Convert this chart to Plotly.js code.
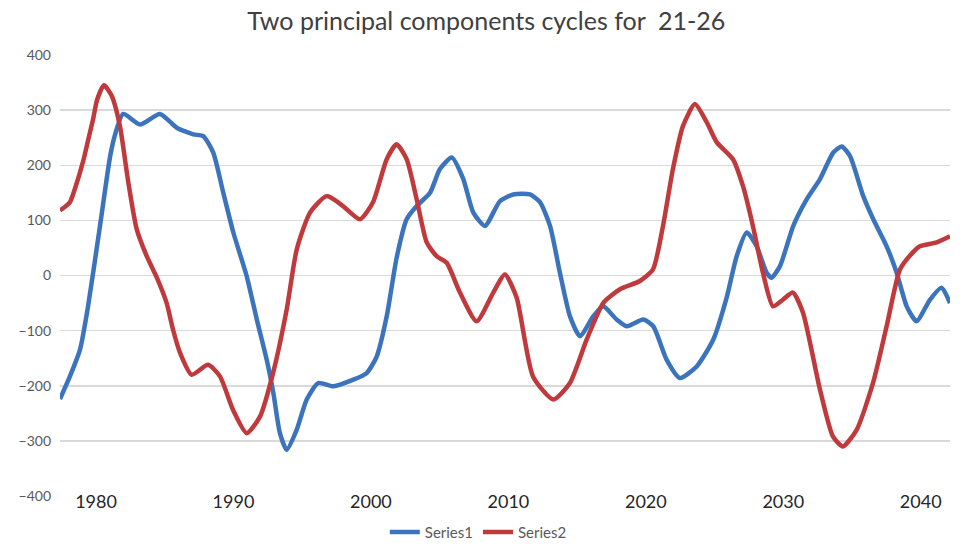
<!DOCTYPE html>
<html>
<head>
<meta charset="utf-8">
<script src="https://cdn.plot.ly/plotly-3.0.1.min.js"></script>
<style>html,body{margin:0;padding:0;background:#fff;}#chart{width:963px;height:551px;}</style>
</head>
<body>
<div id="chart"></div>
<script>
const chartTitle = "Two principal components cycles for  21-26";
const seriesNames = ["Series1", "Series2"];
const tickYears = [1980, 1990, 2000, 2010, 2020, 2030, 2040];

const years1 = [1977.38, 1978.1, 1978.83, 1979.42, 1980.29, 1981.02, 1981.38, 1981.98, 1983.2, 1984.65, 1985.87, 1987.08, 1987.8, 1988.53, 1989.26, 1989.99, 1990.96, 1991.7, 1992.42, 1992.9, 1993.38, 1993.87, 1994.6, 1995.33, 1996.17, 1997.26, 1998.72, 1999.69, 2000.42, 2001.15, 2001.87, 2002.6, 2003.33, 2004.3, 2005.02, 2005.88, 2006.72, 2007.45, 2008.3, 2009.39, 2010.36, 2011.57, 2012.3, 2013.03, 2013.75, 2014.48, 2015.21, 2016.18, 2016.9, 2017.88, 2018.61, 2019.81, 2020.54, 2021.52, 2022.48, 2023.7, 2024.91, 2025.88, 2026.61, 2027.34, 2028.06, 2028.79, 2029.15, 2029.76, 2030.73, 2031.7, 2032.67, 2033.64, 2034.25, 2034.85, 2035.82, 2036.55, 2037.52, 2038.25, 2038.98, 2039.7, 2040.67, 2041.52, 2042.13];
const values1 = [-224, -183, -135, -56, 90, 215, 255, 293, 274, 293, 268, 256, 253, 223, 150, 78, -1, -80, -153, -213, -286, -316, -280, -225, -195, -201, -189, -177, -147, -74, 32, 102, 126, 150, 193, 214, 175, 114, 90, 135, 147, 147, 133, 90, 5, -74, -110, -74, -56, -80, -92, -80, -92, -153, -186, -165, -116, -40, 35, 78, 53, 5, -4, 17, 90, 138, 175, 223, 234, 217, 144, 102, 53, 5, -56, -83, -44, -22, -50];

const years2 = [1977.38, 1978.1, 1978.5, 1979.07, 1979.42, 1979.8, 1980.07, 1980.58, 1981.14, 1981.74, 1982.35, 1982.96, 1983.69, 1984.41, 1985.14, 1985.6, 1986.11, 1986.96, 1988.15, 1989.02, 1989.97, 1990.96, 1991.93, 1992.88, 1993.87, 1994.6, 1995.57, 1996.78, 1997.97, 1999.2, 2000.15, 2001.15, 2001.87, 2002.6, 2003.33, 2004.06, 2004.78, 2005.51, 2006.48, 2007.69, 2008.9, 2009.75, 2010.6, 2011.79, 2013.27, 2014.48, 2015.7, 2016.9, 2018.12, 2019.57, 2020.52, 2021.25, 2021.97, 2022.7, 2023.57, 2024.43, 2025.15, 2026.34, 2027.07, 2027.79, 2028.52, 2029.25, 2029.97, 2030.7, 2031.43, 2032.67, 2033.61, 2034.34, 2035.34, 2036.53, 2037.52, 2038.49, 2039.43, 2039.94, 2041.16, 2042.13];
const values2 = [118, 133, 160, 208, 245, 285, 318, 345, 326, 271, 169, 84, 35, -3, -50, -98, -140, -180, -162, -183, -244, -286, -256, -177, -62, 47, 114, 144, 126, 102, 133, 211, 238, 211, 138, 60, 35, 23, -31, -83, -31, 2, -40, -183, -225, -195, -116, -50, -25, -10, 11, 90, 193, 271, 311, 278, 242, 211, 162, 90, 5, -56, -44, -31, -67, -207, -292, -310, -280, -195, -92, 11, 42, 53, 60, 71];

const traces = [
  {x: years1, y: values1, name: seriesNames[0], type: 'scatter', mode: 'lines',
   line: {color: '#3b74bd', width: 4.5, shape: 'spline', smoothing: 0.6}},
  {x: years2, y: values2, name: seriesNames[1], type: 'scatter', mode: 'lines',
   line: {color: '#c0393c', width: 4.5, shape: 'spline', smoothing: 0.6}}
];

const layout = {
  width: 963, height: 551,
  paper_bgcolor: '#ffffff', plot_bgcolor: '#ffffff',
  margin: {l: 60, r: 13, t: 55, b: 55, autoexpand: false},
  font: {family: 'Lato, "Open Sans", sans-serif', color: '#595959'},
  title: {text: chartTitle, x: 0.505, xanchor: 'center', y: 0.962, yanchor: 'middle', yref: 'container',
          font: {family: 'Lato, "Open Sans", sans-serif', size: 25, color: '#404040'}},
  xaxis: {range: [1977.38, 2042.13], tickvals: tickYears, ticktext: tickYears.map(String),
          showgrid: false, zeroline: false, showline: false, ticks: '',
          ticklabelstandoff: -7,
          tickfont: {size: 18, color: '#262626'}},
  yaxis: {range: [-400, 400], dtick: 100, tick0: 0, showgrid: true, gridcolor: '#d9d9d9', gridwidth: 1.5,
          zeroline: false, showline: false, ticks: '', ticklabelstandoff: 8,
          tickfont: {size: 14, color: '#595959'}},
  showlegend: true,
  legend: {orientation: 'h', x: 0.47, xanchor: 'center', y: -0.082, yanchor: 'middle',
           font: {size: 15, color: '#595959'}, bgcolor: 'rgba(0,0,0,0)'}
};

Plotly.newPlot('chart', traces, layout, {displayModeBar: false, staticPlot: true});
</script>
</body>
</html>
